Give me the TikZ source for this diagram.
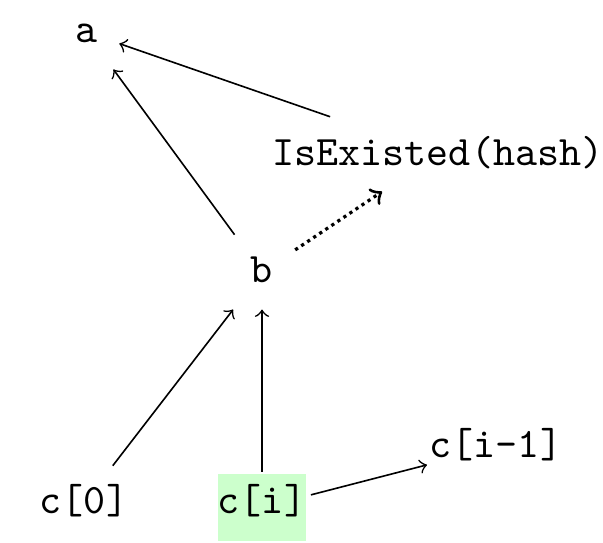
\documentclass[tikz,border=0pt]{standalone}
\usepackage{tikz}
\usetikzlibrary{arrows}

\begin{document}
\begin{tikzpicture}[
    every node/.style={
      font=\fontsize{10.4}{12}\ttfamily, text height=1.5ex, text depth=.25ex,
      inner sep=5.3pt, anchor=base
    },
    hl/.style={
      fill=green!20, inner xsep=0pt, inner ysep=3.4pt,
      text height=6.6pt, text depth=3.4pt,
      outer xsep=1.2pt, outer ysep=0.5pt
    },
    arr/.style={->},
    dep/.style={->, thick, densely dotted}
  ]
    \useasboundingbox (0,0) rectangle (5.25,-4.727);
    \node (a) at (0.749,-0.374) {a};
    \node (exist) at (3.813,-1.437) {IsExisted(hash)};
    \node (b) at (2.281,-2.464) {b};
    \node (c0) at (0.731,-4.475) {c[0]};
    \node[hl] (ci) at (2.281,-4.475) {c[i]};
    \node[inner xsep=0.5pt] (cprev) at (4.318,-3.987) {c[i-1]};
    \draw[arr] (exist) -- (a);
    \draw[arr] (b) -- (a);
    \draw[dep] (b) -- (exist);
    \draw[arr] (c0) -- (b);
    \draw[arr] (ci) -- (b);
    \draw[arr] (ci) -- (cprev);
  \end{tikzpicture}
\end{document}
